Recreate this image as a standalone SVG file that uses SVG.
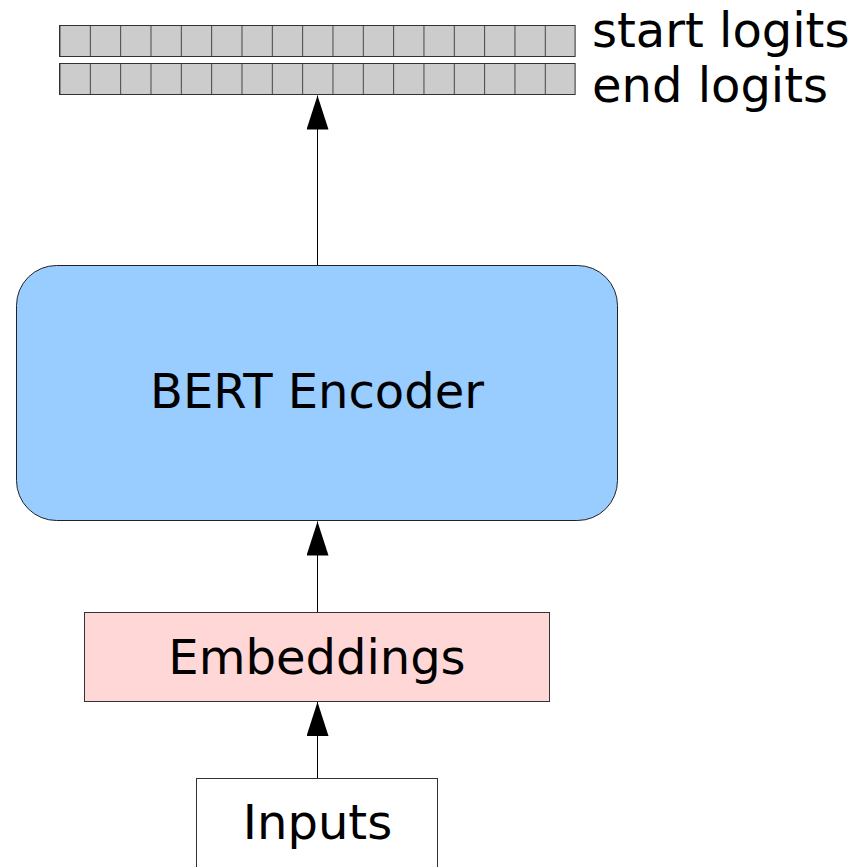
<svg xmlns="http://www.w3.org/2000/svg" width="857" height="867" viewBox="0 0 857 867">
<defs>
<style>
.t{font-family:"DejaVu Sans",sans-serif;font-size:48px;fill:#000}
.ln{stroke:#000;stroke-width:1;fill:none}
</style>
<marker id="ah" viewBox="0 0 34 22" refX="34" refY="11" markerWidth="34" markerHeight="22" markerUnits="userSpaceOnUse" orient="auto">
<path d="M0,0 L34,11 L0,22 Z" fill="#000"/>
</marker>
<pattern id="cells" x="59.5" y="0" width="30.33" height="100" patternUnits="userSpaceOnUse">
<rect x="0" y="0" width="30.33" height="100" fill="#cccccc"/>
<line x1="0.5" y1="0" x2="0.5" y2="100" stroke="#444" stroke-width="1"/>
</pattern>
</defs>
<rect width="857" height="867" fill="#fff"/>
<g id="start-logits">
<rect x="59.5" y="25.5" width="515.6" height="31" fill="url(#cells)" stroke="#333"/>
<text class="t" x="592" y="47">start logits</text>
</g>
<g id="end-logits">
<rect x="59.5" y="63.5" width="515.6" height="31" fill="url(#cells)" stroke="#333"/>
<text class="t" x="592" y="102">end logits</text>
</g>
<g id="bert">
<rect x="16.5" y="265.5" width="601" height="255" rx="40" ry="40" fill="#99ccff" stroke="#222"/>
<text class="t" x="317" y="408" text-anchor="middle">BERT Encoder</text>
</g>
<g id="embeddings">
<rect x="84.5" y="612.5" width="465" height="89" fill="#ffd7d7" stroke="#333"/>
<text class="t" x="317" y="674" text-anchor="middle">Embeddings</text>
</g>
<g id="inputs">
<rect x="196.5" y="778.5" width="241" height="100" fill="#fff" stroke="#333"/>
<text class="t" x="317.5" y="839" text-anchor="middle">Inputs</text>
</g>
<g id="connectors">
<line class="ln" x1="317.5" y1="265" x2="317.5" y2="95.5" marker-end="url(#ah)"/>
<line class="ln" x1="317.5" y1="612" x2="317.5" y2="521.5" marker-end="url(#ah)"/>
<line class="ln" x1="317.5" y1="778" x2="317.5" y2="702" marker-end="url(#ah)"/>
</g>
</svg>
